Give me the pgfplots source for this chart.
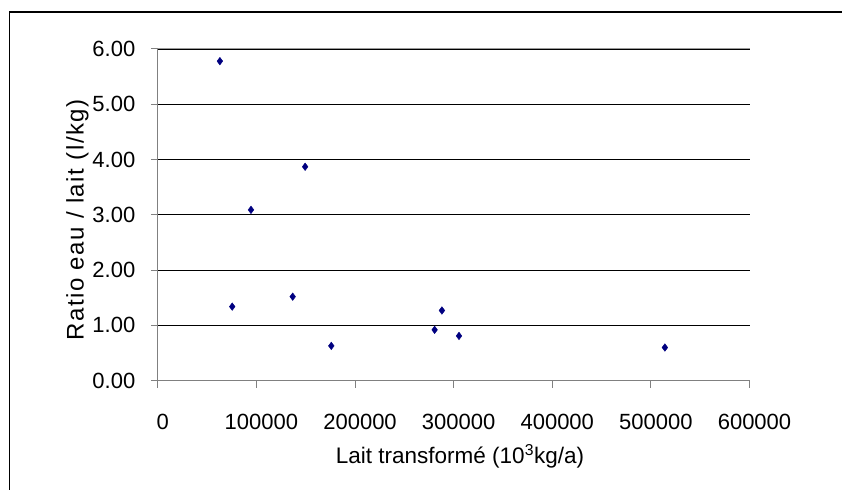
\documentclass[border=0pt]{standalone}
\usepackage{fontspec}
\setmainfont{Liberation Sans}
\newfontfamily\ylabfont[LetterSpace=6.5]{Liberation Sans}
\usepackage{pgfplots}
\pgfplotsset{compat=1.18}
\definecolor{navy}{RGB}{0,0,128}
\definecolor{axgray}{RGB}{128,128,128}
\begin{document}
\fontsize{22bp}{26bp}\selectfont
\begin{tikzpicture}[x=1bp,y=1bp]
\useasboundingbox (-157.8,-109.3) rectangle (684.2,380.7);
\draw[line width=1.4bp,black] (-148.3,-109.3) -- (-148.3,368.7) -- (684.2,368.7);
\begin{axis}[
  scale only axis,
  width=591.7bp, height=331.7bp,
  xmin=0, xmax=600000, ymin=0, ymax=6,
  axis x line*=bottom, axis y line*=left,
  axis line style={axgray, line width=1bp, -},
  xtick={0,100000,...,600000},
  ytick={0,1,...,6},
  scaled x ticks=false,
  tick align=outside,
  major tick length=7bp,
  tick style={axgray, line width=1bp},
  ymajorgrids,
  grid style={black, line width=0.9bp},
  /pgf/number format/assume math mode=true,
  tick label style={font=\fontsize{22bp}{26bp}\selectfont},
  label style={font=\fontsize{22.5bp}{27bp}\selectfont},
  xticklabel style={/pgf/number format/1000 sep={}, /pgf/number format/fixed, yshift=-19bp, xshift=5bp},
  yticklabel style={/pgf/number format/fixed, /pgf/number format/precision=2, /pgf/number format/fixed zerofill, xshift=-8bp},
  xlabel={Lait transformé (10\textsuperscript{3}kg/a)},
  ylabel={Ratio eau / lait (l/kg)},
  xlabel style={at={(axis description cs:0.5107,-0.228)}, anchor=center},
  ylabel style={at={(axis description cs:-0.136,0.4845)}, anchor=center, font=\ylabfont\fontsize{24bp}{28bp}\selectfont},
  clip=false,
]
\addplot[only marks, mark=diamond*, mark size=3.8bp, mark options={fill=navy, draw=navy}, color=navy] coordinates {
  (62970,5.78)
  (75480,1.34)
  (94500,3.09)
  (136800,1.52)
  (149400,3.87)
  (175900,0.63)
  (280700,0.92)
  (288100,1.27)
  (305400,0.81)
  (514200,0.60)
};
\draw[axgray!80, line width=1bp] (axis cs:0,6) -- (axis cs:600000,6);
\end{axis}
\end{tikzpicture}
\end{document}
